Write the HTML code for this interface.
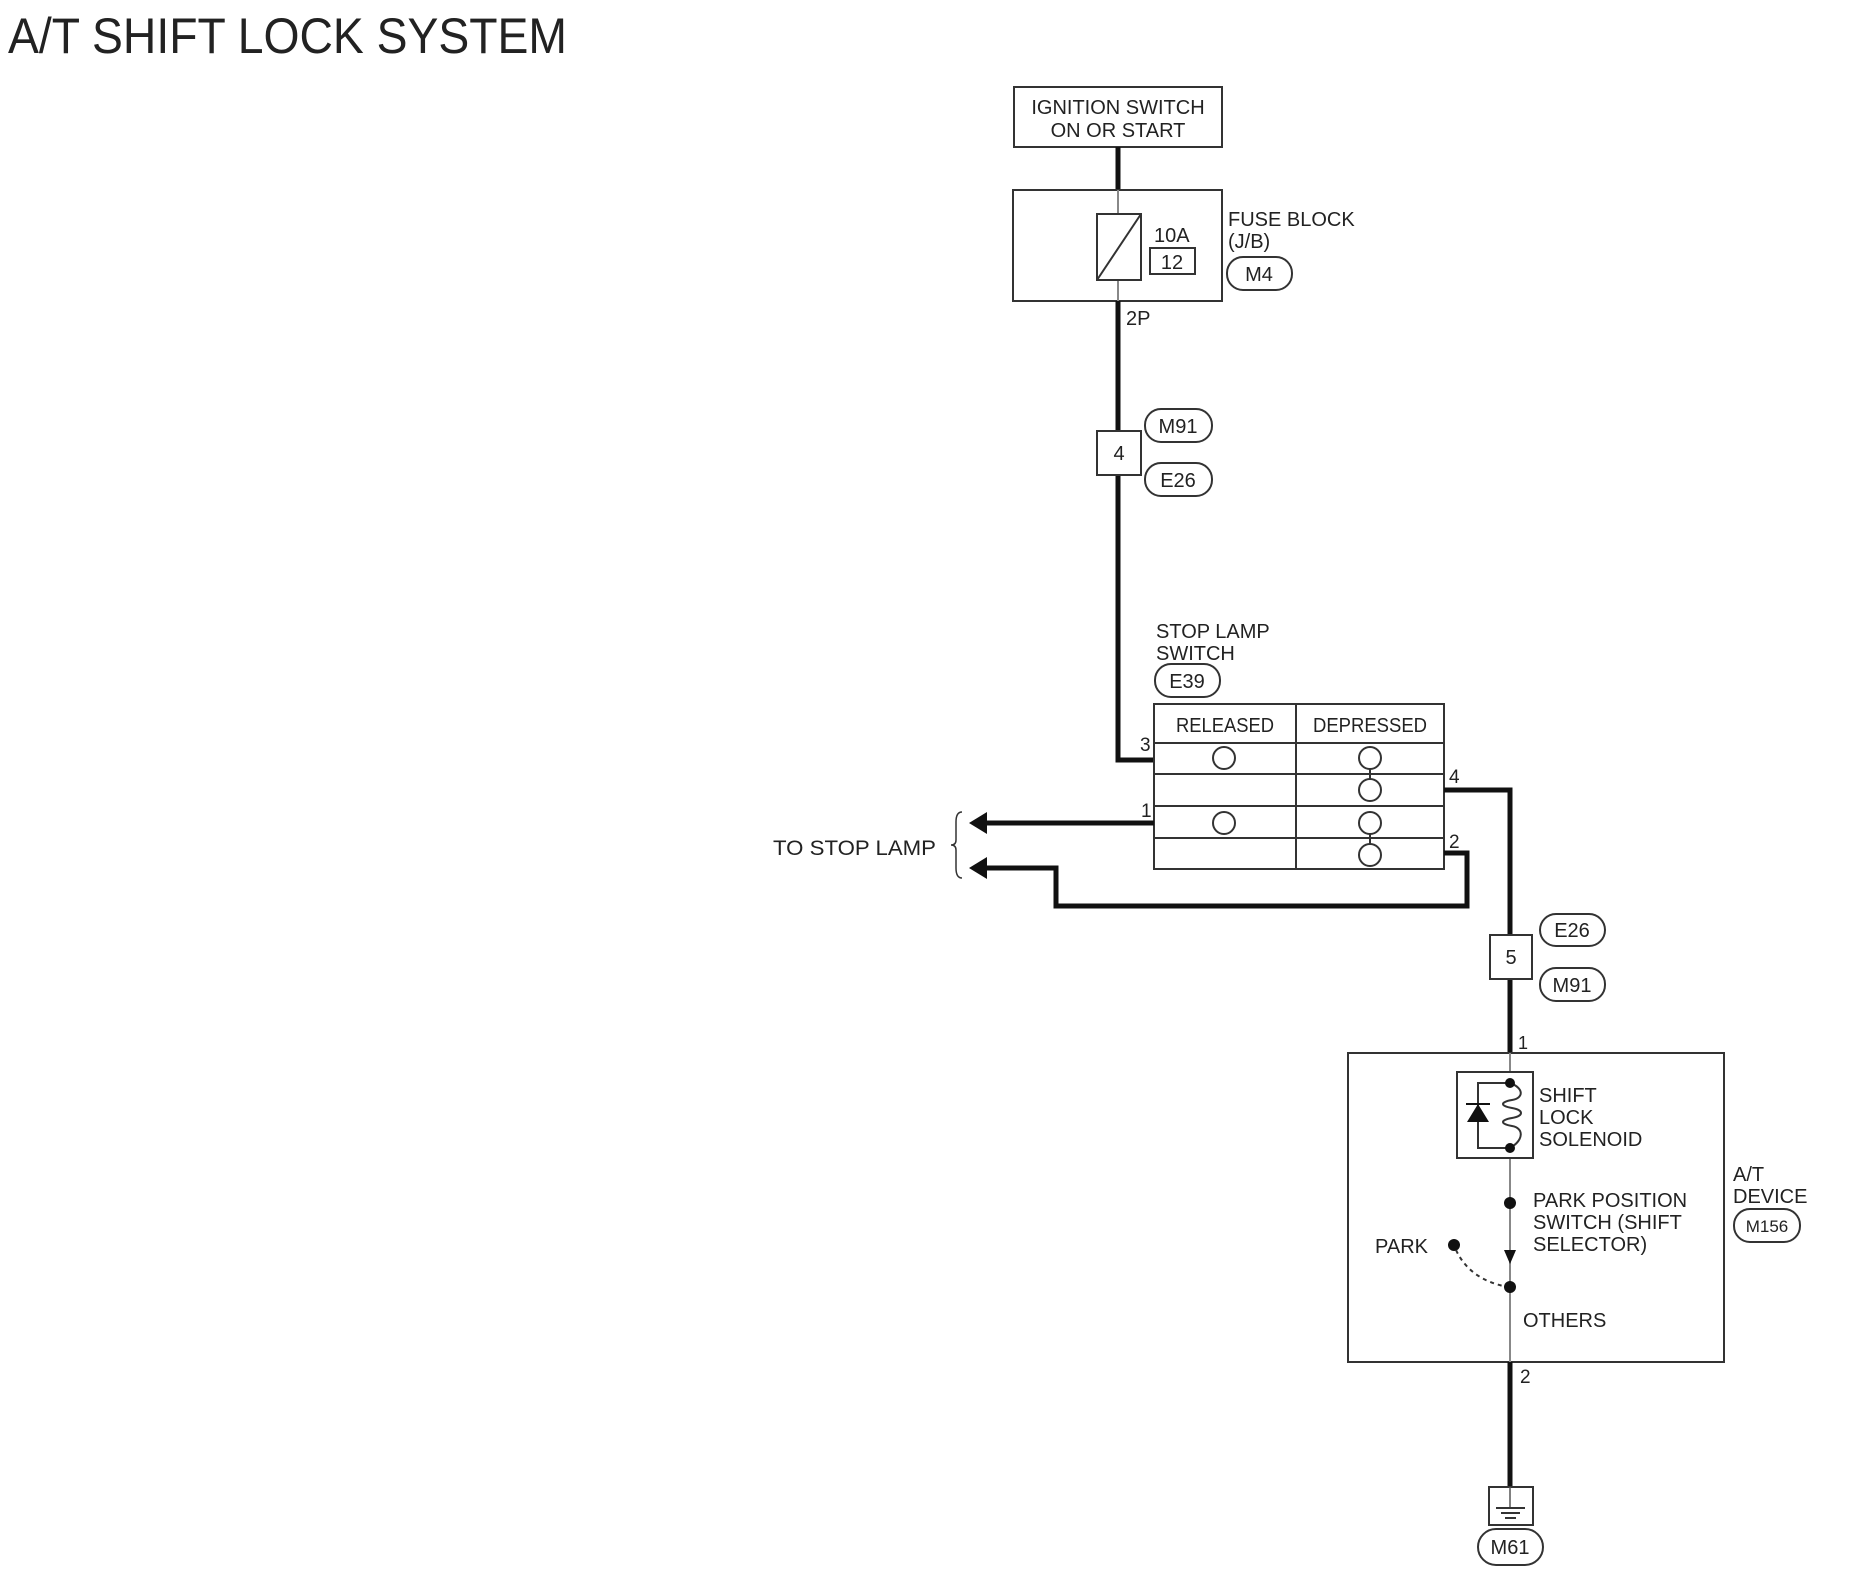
<!DOCTYPE html>
<html><head><meta charset="utf-8"><style>
html,body{margin:0;padding:0;background:#fff}
svg{display:block}
text{font-family:"Liberation Sans",Arial,sans-serif;fill:#222}
</style></head><body>
<svg width="1850" height="1595" viewBox="0 0 1850 1595" xmlns="http://www.w3.org/2000/svg">
<text x="8" y="53" font-size="50" fill="#111" textLength="559" lengthAdjust="spacingAndGlyphs">A/T SHIFT LOCK SYSTEM</text>

<!-- Ignition -->
<rect x="1014" y="87" width="208" height="60" fill="none" stroke="#333" stroke-width="2"/>
<text x="1118" y="114" font-size="20" text-anchor="middle">IGNITION SWITCH</text>
<text x="1118" y="137" font-size="20" text-anchor="middle">ON OR START</text>
<line x1="1118" y1="147" x2="1118" y2="190" stroke="#111" stroke-width="5"/>

<!-- Fuse block -->
<rect x="1013" y="190" width="209" height="111" fill="none" stroke="#333" stroke-width="2"/>
<line x1="1118" y1="190" x2="1118" y2="301" stroke="#888" stroke-width="2"/>
<rect x="1097" y="214" width="44" height="66" fill="#fff" stroke="#333" stroke-width="2"/>
<line x1="1097" y1="280" x2="1141" y2="214" stroke="#333" stroke-width="2"/>
<text x="1154" y="242" font-size="20">10A</text>
<rect x="1150" y="248" width="45" height="26" fill="none" stroke="#333" stroke-width="2"/>
<text x="1172" y="269" font-size="20" text-anchor="middle">12</text>
<text x="1228" y="226" font-size="20">FUSE BLOCK</text>
<text x="1228" y="248" font-size="20">(J/B)</text>
<rect x="1227" y="257" width="65" height="33" rx="16" fill="none" stroke="#333" stroke-width="2"/>
<text x="1259" y="281" font-size="20" text-anchor="middle">M4</text>
<text x="1126" y="325" font-size="20">2P</text>

<!-- wire to stop lamp switch -->
<polyline points="1118,301 1118,760 1154,760" fill="none" stroke="#111" stroke-width="5"/>
<rect x="1097" y="431" width="44" height="44" fill="#fff" stroke="#333" stroke-width="2"/>
<text x="1119" y="460" font-size="20" text-anchor="middle">4</text>
<rect x="1145" y="409" width="67" height="33" rx="16" fill="none" stroke="#333" stroke-width="2"/>
<text x="1178" y="433" font-size="20" text-anchor="middle">M91</text>
<rect x="1145" y="463" width="67" height="33" rx="16" fill="none" stroke="#333" stroke-width="2"/>
<text x="1178" y="487" font-size="20" text-anchor="middle">E26</text>

<!-- Stop lamp switch -->
<text x="1156" y="638" font-size="20">STOP LAMP</text>
<text x="1156" y="660" font-size="20">SWITCH</text>
<rect x="1155" y="664" width="65" height="33" rx="16" fill="none" stroke="#333" stroke-width="2"/>
<text x="1187" y="688" font-size="20" text-anchor="middle">E39</text>

<rect x="1154" y="704" width="290" height="165" fill="none" stroke="#333" stroke-width="2"/>
<line x1="1296" y1="704" x2="1296" y2="869" stroke="#333" stroke-width="2"/>
<line x1="1154" y1="743" x2="1444" y2="743" stroke="#333" stroke-width="2"/>
<line x1="1154" y1="774" x2="1444" y2="774" stroke="#333" stroke-width="2"/>
<line x1="1154" y1="806" x2="1444" y2="806" stroke="#333" stroke-width="2"/>
<line x1="1154" y1="838" x2="1444" y2="838" stroke="#333" stroke-width="2"/>
<text x="1225" y="732" font-size="20" text-anchor="middle" textLength="98" lengthAdjust="spacingAndGlyphs">RELEASED</text>
<text x="1370" y="732" font-size="20" text-anchor="middle" textLength="114" lengthAdjust="spacingAndGlyphs">DEPRESSED</text>
<g fill="#fff" stroke="#333" stroke-width="2">
<line x1="1370" y1="758" x2="1370" y2="790"/>
<line x1="1370" y1="823" x2="1370" y2="855"/>
<circle cx="1224" cy="758" r="11"/>
<circle cx="1224" cy="823" r="11"/>
<circle cx="1370" cy="758" r="11"/>
<circle cx="1370" cy="790" r="11"/>
<circle cx="1370" cy="823" r="11"/>
<circle cx="1370" cy="855" r="11"/>
</g>
<text x="1140" y="751" font-size="19">3</text>
<text x="1141" y="817" font-size="19">1</text>
<text x="1449" y="783" font-size="19">4</text>
<text x="1449" y="848" font-size="19">2</text>

<!-- to stop lamp -->
<line x1="1154" y1="823" x2="985" y2="823" stroke="#111" stroke-width="5"/>
<polygon points="969,823 987,812 987,834" fill="#111"/>
<polyline points="1444,853 1467,853 1467,906 1056,906 1056,868 985,868" fill="none" stroke="#111" stroke-width="5"/>
<polygon points="969,868 987,857 987,879" fill="#111"/>
<path d="M962,812 Q956,812 956,822 L956,840 Q956,845 951,845 Q956,845 956,850 L956,868 Q956,878 962,878" fill="none" stroke="#333" stroke-width="1.5"/>
<text x="773" y="855" font-size="21" textLength="163" lengthAdjust="spacingAndGlyphs">TO STOP LAMP</text>

<!-- wire from 4 -->
<polyline points="1444,790 1510,790 1510,1053" fill="none" stroke="#111" stroke-width="5"/>
<rect x="1490" y="935" width="42" height="44" fill="#fff" stroke="#333" stroke-width="2"/>
<text x="1511" y="964" font-size="20" text-anchor="middle">5</text>
<rect x="1540" y="914" width="65" height="32" rx="16" fill="none" stroke="#333" stroke-width="2"/>
<text x="1572" y="937" font-size="20" text-anchor="middle">E26</text>
<rect x="1540" y="968" width="65" height="33" rx="16" fill="none" stroke="#333" stroke-width="2"/>
<text x="1572" y="992" font-size="20" text-anchor="middle">M91</text>
<text x="1518" y="1049" font-size="18">1</text>

<!-- A/T device -->
<rect x="1348" y="1053" width="376" height="309" fill="none" stroke="#333" stroke-width="2"/>
<line x1="1510" y1="1053" x2="1510" y2="1362" stroke="#888" stroke-width="2"/>
<rect x="1457" y="1072" width="76" height="86" fill="#fff" stroke="#333" stroke-width="2"/>
<polyline points="1510,1083 1478,1083 1478,1148 1510,1148" fill="none" stroke="#333" stroke-width="2"/>
<polygon points="1478,1104 1467,1122 1489,1122" fill="#111"/>
<line x1="1466" y1="1104" x2="1490" y2="1104" stroke="#111" stroke-width="2"/>
<path d="M1510,1083 C1524,1088 1524,1098 1512,1100 C1500,1102 1500,1106 1512,1108 C1524,1110 1524,1116 1512,1118 C1500,1120 1500,1124 1512,1126 C1524,1128 1524,1140 1510,1148" fill="#fff" stroke="#333" stroke-width="2"/>
<circle cx="1510" cy="1083" r="5" fill="#111"/>
<circle cx="1510" cy="1148" r="5" fill="#111"/>
<text x="1539" y="1102" font-size="20">SHIFT</text>
<text x="1539" y="1124" font-size="20">LOCK</text>
<text x="1539" y="1146" font-size="20">SOLENOID</text>
<circle cx="1510" cy="1203" r="6" fill="#111"/>
<polygon points="1504,1250 1516,1250 1510,1264" fill="#111"/>
<text x="1533" y="1207" font-size="20">PARK POSITION</text>
<text x="1533" y="1229" font-size="20">SWITCH (SHIFT</text>
<text x="1533" y="1251" font-size="20">SELECTOR)</text>
<circle cx="1454" cy="1245" r="6" fill="#111"/>
<text x="1375" y="1253" font-size="20">PARK</text>
<path d="M1456,1250 Q1470,1280 1508,1287" fill="none" stroke="#333" stroke-width="2" stroke-dasharray="4,4"/>
<circle cx="1510" cy="1287" r="6" fill="#111"/>
<text x="1523" y="1327" font-size="20">OTHERS</text>
<text x="1733" y="1181" font-size="20">A/T</text>
<text x="1733" y="1203" font-size="20">DEVICE</text>
<rect x="1734" y="1209" width="66" height="33" rx="16" fill="none" stroke="#333" stroke-width="2"/>
<text x="1767" y="1232" font-size="17" text-anchor="middle">M156</text>

<!-- ground -->
<line x1="1510" y1="1362" x2="1510" y2="1487" stroke="#111" stroke-width="5"/>
<text x="1520" y="1383" font-size="19">2</text>
<rect x="1489" y="1487" width="44" height="38" fill="#fff" stroke="#333" stroke-width="2"/>
<line x1="1510" y1="1487" x2="1510" y2="1508" stroke="#555" stroke-width="1.5"/>
<line x1="1496" y1="1508" x2="1525" y2="1508" stroke="#333" stroke-width="2"/>
<line x1="1501" y1="1513" x2="1520" y2="1513" stroke="#333" stroke-width="2"/>
<line x1="1505" y1="1518" x2="1516" y2="1518" stroke="#333" stroke-width="2"/>
<rect x="1478" y="1529" width="65" height="36" rx="18" fill="none" stroke="#333" stroke-width="2"/>
<text x="1510" y="1554" font-size="20" text-anchor="middle">M61</text>
</svg>
</body></html>
